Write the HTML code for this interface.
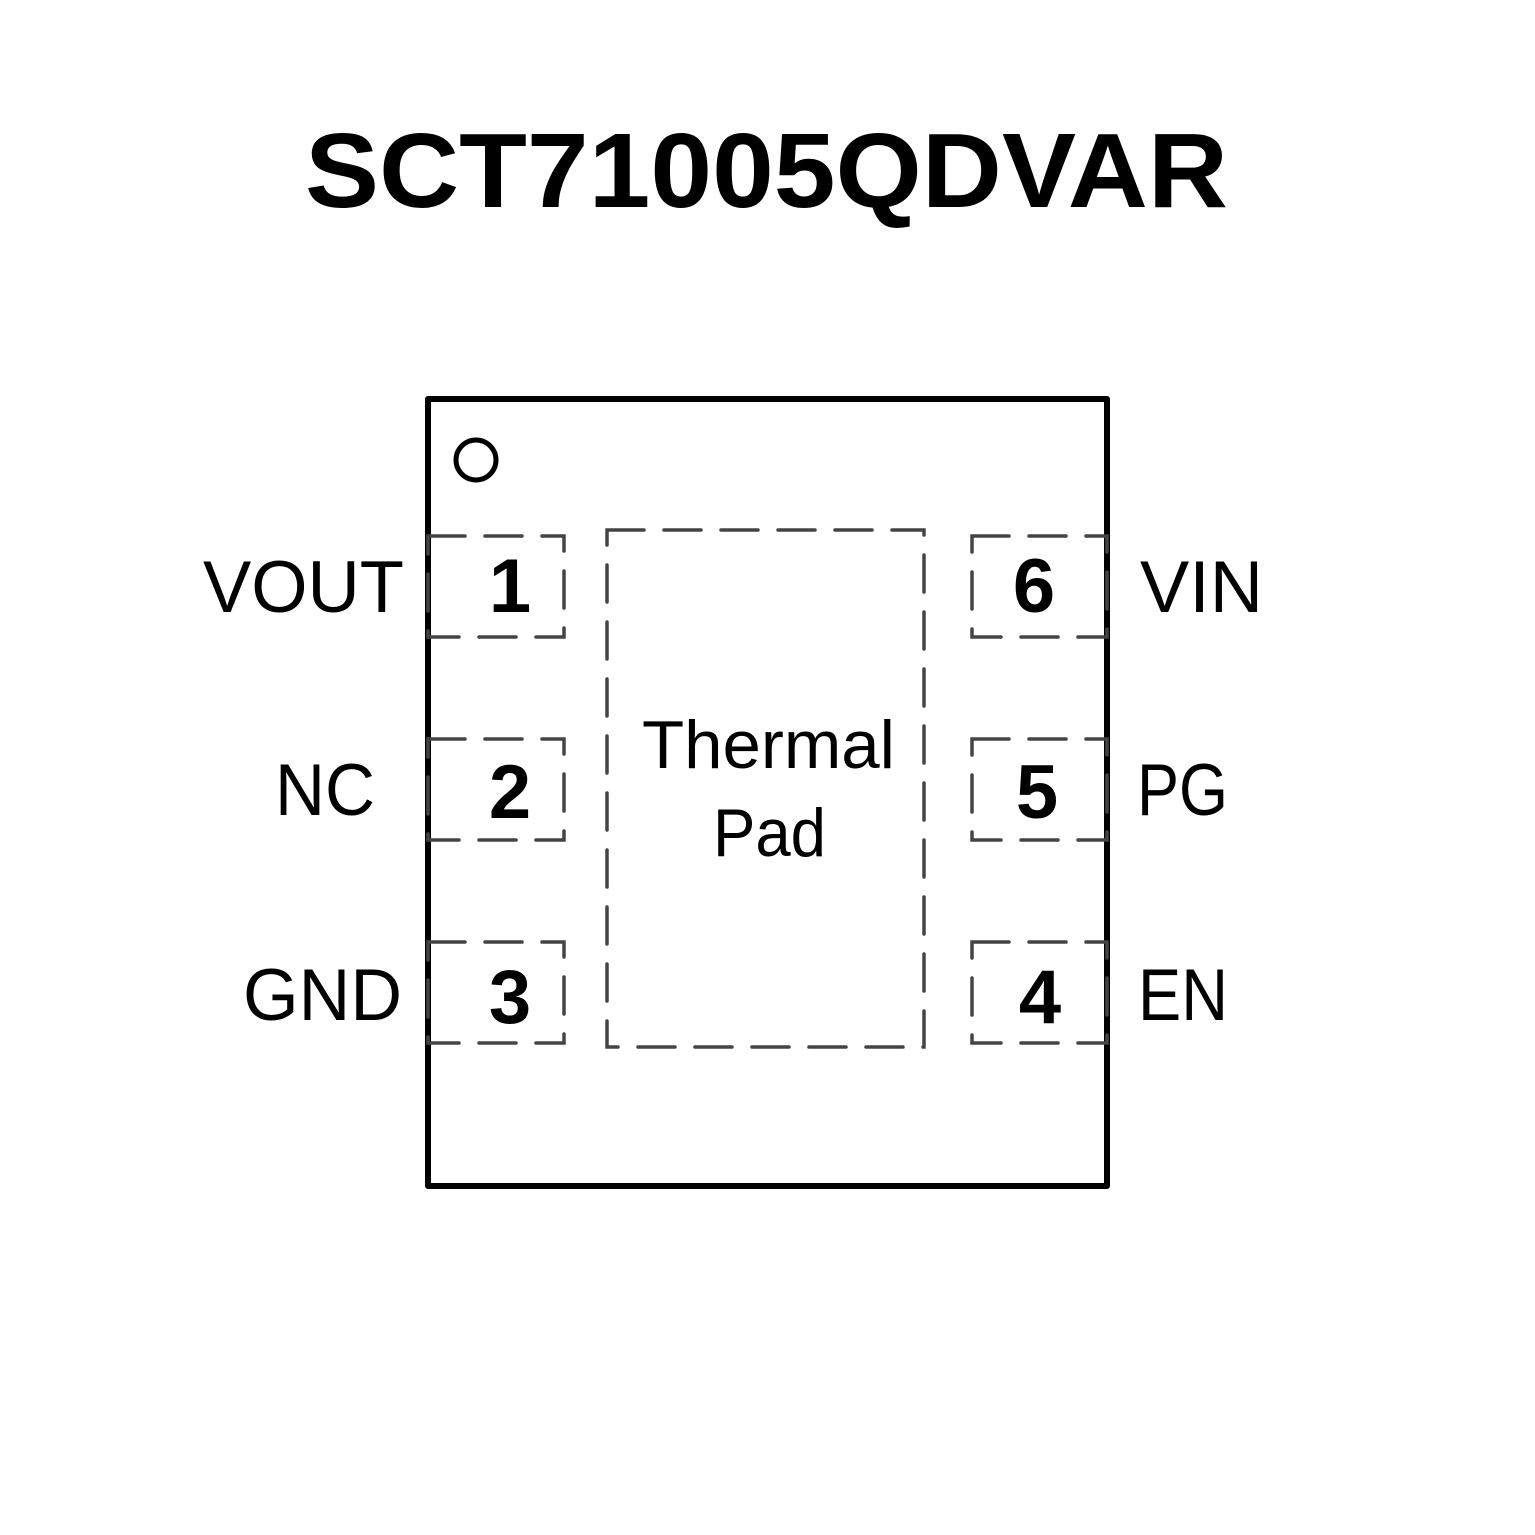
<!DOCTYPE html>
<html><head><meta charset="utf-8"><style>
html,body{margin:0;padding:0;background:#fff;}
svg{display:block;}
text{font-family:"Liberation Sans",sans-serif;fill:#000;}
</style></head><body>
<svg width="1535" height="1535" viewBox="0 0 1535 1535" xmlns="http://www.w3.org/2000/svg">
<rect width="1535" height="1535" fill="#fff"/>
<text x="305" y="207" font-size="106" font-weight="bold" textLength="923" lengthAdjust="spacingAndGlyphs">SCT71005QDVAR</text>
<rect x="428" y="399" width="679" height="787" fill="none" stroke="#000" stroke-width="6" stroke-linejoin="round"/>
<circle cx="476" cy="460" r="20" fill="none" stroke="#000" stroke-width="5"/>
<g fill="none" stroke="#444" stroke-width="3.5" stroke-dasharray="37 20" stroke-linecap="round">
<rect x="428" y="536" width="136" height="101"/>
<rect x="428" y="739" width="136" height="101"/>
<rect x="428" y="942" width="136" height="101"/>
<rect x="972" y="536" width="135" height="101"/>
<rect x="972" y="739" width="135" height="101"/>
<rect x="972" y="942" width="135" height="101"/>
<rect x="607" y="530" width="317" height="517"/>
</g>
<g font-size="73">
<text x="203" y="612" textLength="201" lengthAdjust="spacingAndGlyphs">VOUT</text>
<text x="275" y="815" textLength="100" lengthAdjust="spacingAndGlyphs">NC</text>
<text x="243" y="1020" textLength="159" lengthAdjust="spacingAndGlyphs">GND</text>
<text x="1140" y="612" textLength="123" lengthAdjust="spacingAndGlyphs">VIN</text>
<text x="1137" y="815" textLength="91" lengthAdjust="spacingAndGlyphs">PG</text>
<text x="1138" y="1020" textLength="90" lengthAdjust="spacingAndGlyphs">EN</text>
</g>
<g font-size="76" font-weight="bold" text-anchor="middle">
<text x="510" y="612">1</text>
<text x="510" y="818">2</text>
<text x="510" y="1023">3</text>
<text x="1034" y="612">6</text>
<text x="1037" y="818">5</text>
<text x="1040" y="1023">4</text>
</g>
<g font-size="68">
<text x="642" y="768" textLength="253" lengthAdjust="spacingAndGlyphs">Thermal</text>
<text x="713" y="856" textLength="113" lengthAdjust="spacingAndGlyphs">Pad</text>
</g>
</svg>
</body></html>
